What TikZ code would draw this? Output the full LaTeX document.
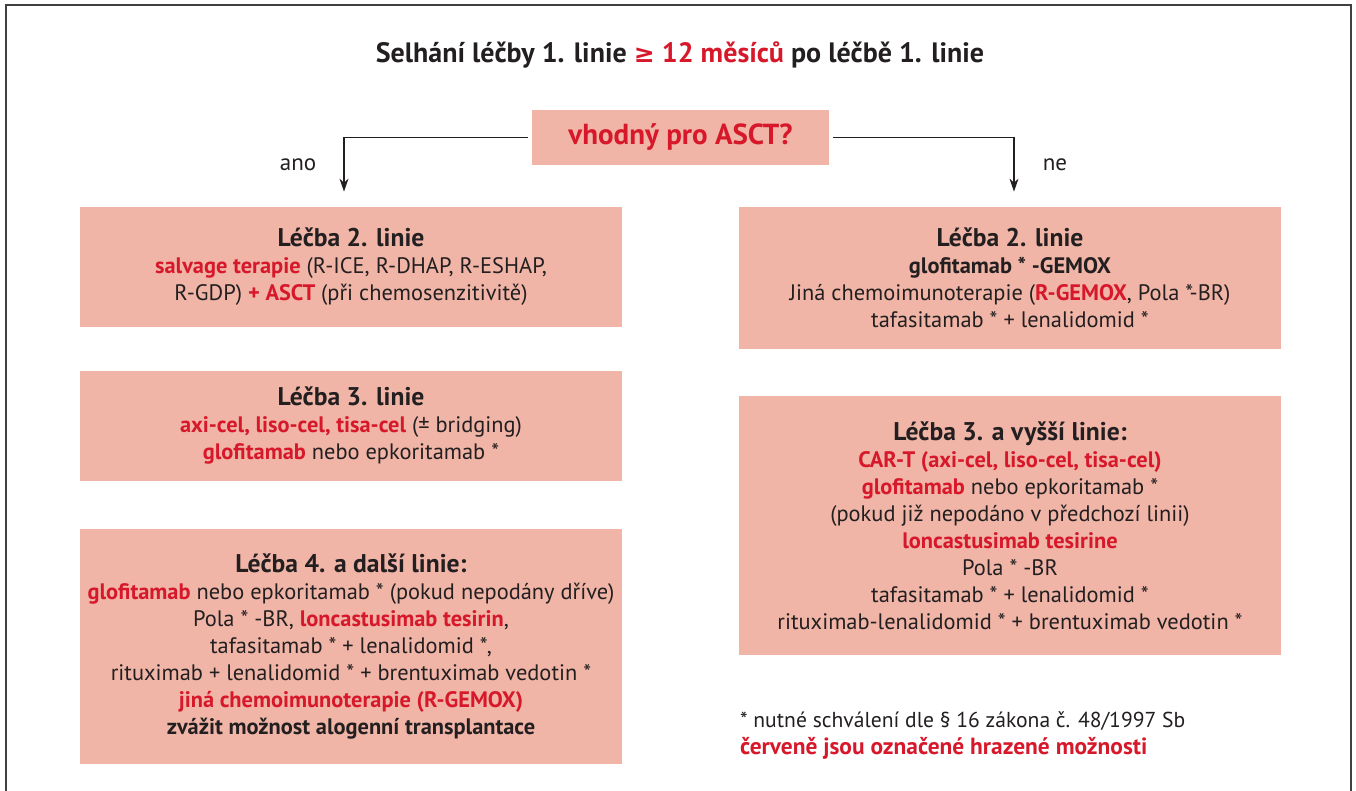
\documentclass[tikz,border=0pt]{standalone}
\usepackage{fontspec}
\setmainfont{PT Sans}
\newfontfamily\symfont{DejaVu Sans}
\usetikzlibrary{arrows.meta}
\definecolor{boxfill}{HTML}{F0B5A7}
\definecolor{mred}{HTML}{D7182A}
\definecolor{mtext}{HTML}{231F20}
\newcommand{\hl}[1]{\textcolor{mred}{\textbf{#1}}}
\newcommand{\boxhead}[1]{{\fontsize{12.8}{15}\selectfont\bfseries #1}}
\begin{document}
\begin{tikzpicture}[x=0.5pt,y=-0.5pt,
    every node/.style={text=mtext},
    linebox/.style={fill=boxfill,align=center,inner sep=0pt,
      font=\fontsize{11.2}{13.5}\selectfont},
    flow/.style={-{Stealth[length=6.5pt,width=4.5pt]},line width=0.6pt,draw=mtext,
      shorten <=2pt,shorten >=7.5pt}]
  \useasboundingbox (0,0) rectangle (1356,791);
  % frame
  \draw[line width=1pt,black!75] (6,791) -- (6,5) -- (1351,5) -- (1351,791);
  \node (title) at (680,55) {\fontsize{14}{16}\selectfont\bfseries
    Selhání léčby 1. linie \textcolor{mred}{{\symfont\fontsize{12.5}{16}\selectfont ≥} 12 měsíců} po léčbě 1. linie};
  \node[linebox,minimum width=148.5pt,minimum height=27.5pt,
    font=\fontsize{14.5}{16}\selectfont\bfseries] (ask) at (680.5,137.5) {\hl{vhodný pro ASCT?}};
  % left column
  \begin{scope}[every node/.append style={linebox,minimum width=271pt}]
    \node[minimum height=60pt] (l2) at (351,267) {\boxhead{Léčba 2. linie}\\
      \hl{salvage terapie} (R-ICE, R-DHAP, R-ESHAP,\\
      R-GDP) \hl{+ ASCT} (při chemosenzitivitě)};
    \node[minimum height=55pt] (l3) at (351,426) {\boxhead{Léčba 3. linie}\\
      \hl{axi-cel, liso-cel, tisa-cel} (± bridging)\\
      \hl{glofitamab} nebo epkoritamab *};
    \node[minimum height=117.5pt] (l4) at (351,646.5) {\boxhead{Léčba 4. a další linie:}\\
      \hl{glofitamab} nebo epkoritamab * (pokud nepodány dříve)\\
      Pola * -BR, \hl{loncastusimab tesirin},\\
      tafasitamab * + lenalidomid *,\\
      rituximab + lenalidomid * + brentuximab vedotin *\\
      \hl{jiná chemoimunoterapie (R-GEMOX)}\\
      \textbf{zvážit možnost alogenní transplantace}};
  \end{scope}
  % right column
  \begin{scope}[every node/.append style={linebox,minimum width=271pt}]
    \node[minimum height=71pt] (r2) at (1010,278) {\boxhead{Léčba 2. linie}\\
      \textbf{glofitamab * -GEMOX}\\
      Jiná chemoimunoterapie (\hl{R-GEMOX}, Pola *-BR)\\
      tafasitamab * + lenalidomid *};
    \node[minimum height=129.5pt] (r3) at (1010,525.5) {\boxhead{Léčba 3. a vyšší linie:}\\
      \hl{CAR-T (axi-cel, liso-cel, tisa-cel)}\\
      \hl{glofitamab} nebo epkoritamab *\\
      (pokud již nepodáno v předchozí linii)\\
      \hl{loncastusimab tesirine}\\
      Pola * -BR\\
      tafasitamab * + lenalidomid *\\
      rituximab-lenalidomid * + brentuximab vedotin *};
  \end{scope}
  % decision
  \draw[flow] (ask.west) -| ([xshift=-3.5pt]l2.north);
  \draw[flow] (ask.east) -| ([xshift=2pt]r2.north);
  \node[font=\fontsize{11.5}{13}\selectfont] (yes) at (298,165) {ano};
  \node[font=\fontsize{11.5}{13}\selectfont] (no) at (1055,165) {ne};
  \node[anchor=west,align=left,font=\fontsize{10.8}{13.5}\selectfont] (note) at (733,735.5)
    {* nutné schválení dle § 16 zákona č. 48/1997 Sb\\
     {\fontsize{11.7}{13.5}\selectfont\hl{červeně jsou označené hrazené možnosti}}};
\end{tikzpicture}
\end{document}
